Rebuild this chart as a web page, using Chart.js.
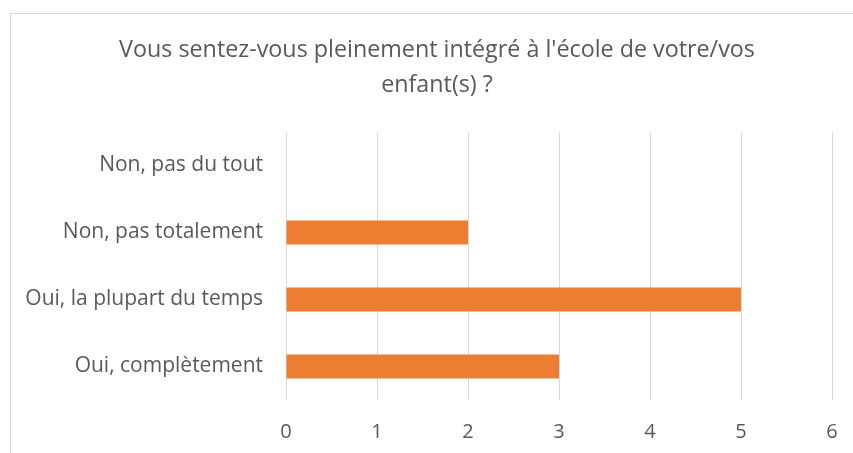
<!DOCTYPE html>
<html>
<head>
<meta charset="utf-8">
<script src="https://cdn.jsdelivr.net/npm/chart.js@4/dist/chart.umd.min.js"></script>
<style>
  html, body { margin: 0; padding: 0; background: #fff; }
  #wrap { position: relative; width: 853px; height: 453px; overflow: hidden; }
  #frame { position: absolute; left: 10px; top: 13px; width: 900px; height: 500px; border: 1px solid #D9D9D9; box-sizing: border-box; }
  canvas { position: absolute; left: 0; top: 0; }
</style>
</head>
<body>
<div id="wrap">
  <div id="frame"></div>
  <canvas id="c" width="853" height="453"></canvas>
</div>
<script>
const titleLines = ["Vous sentez-vous pleinement intégré à l'école de votre/vos", "enfant(s) ?"];
const categories = ["Non, pas du tout", "Non, pas totalement", "Oui, la plupart du temps", "Oui, complètement"];
const values = [0, 2, 5, 3];
const xTicks = [0, 1, 2, 3, 4, 5, 6];

const FONT = "'Open Sans', 'Noto Sans', sans-serif";
const TEXT = '#595959';

const titlePlugin = {
  id: 'customTitle',
  afterDraw(chart) {
    const ctx = chart.ctx;
    ctx.save();
    ctx.fillStyle = TEXT;
    ctx.font = "23.3px " + FONT;
    ctx.textAlign = 'center';
    ctx.textBaseline = 'middle';
    ctx.fillText(titleLines[0], 437, 50);
    ctx.fillText(titleLines[1], 437, 85);
    ctx.restore();
  }
};

new Chart(document.getElementById('c'), {
  type: 'bar',
  data: {
    labels: categories,
    datasets: [{
      data: values,
      backgroundColor: '#ED7D31',
      borderWidth: 0,
      categoryPercentage: 1,
      barPercentage: 0.36
    }]
  },
  options: {
    indexAxis: 'y',
    responsive: false,
    animation: false,
    layout: { padding: { left: 0, right: 21, top: 132, bottom: 12 } },
    plugins: { legend: { display: false }, title: { display: false }, tooltip: { enabled: false } },
    scales: {
      x: {
        min: 0, max: 6,
        afterBuildTicks(scale) { scale.ticks = xTicks.map(v => ({ value: v })); },
        afterFit(scale) { scale.height = 41; scale.paddingLeft = 0; scale.paddingRight = 0; },
        grid: { color: '#D9D9D9', lineWidth: 1, drawTicks: false },
        border: { display: false },
        ticks: { color: TEXT, font: { family: FONT, size: 20 }, padding: 20 }
      },
      y: {
        afterFit(scale) { scale.width = 286; },
        grid: { display: false, drawTicks: false },
        border: { display: false },
        ticks: { color: TEXT, font: { family: FONT, size: 21 }, padding: 23 }
      }
    }
  },
  plugins: [titlePlugin]
});
</script>
</body>
</html>
